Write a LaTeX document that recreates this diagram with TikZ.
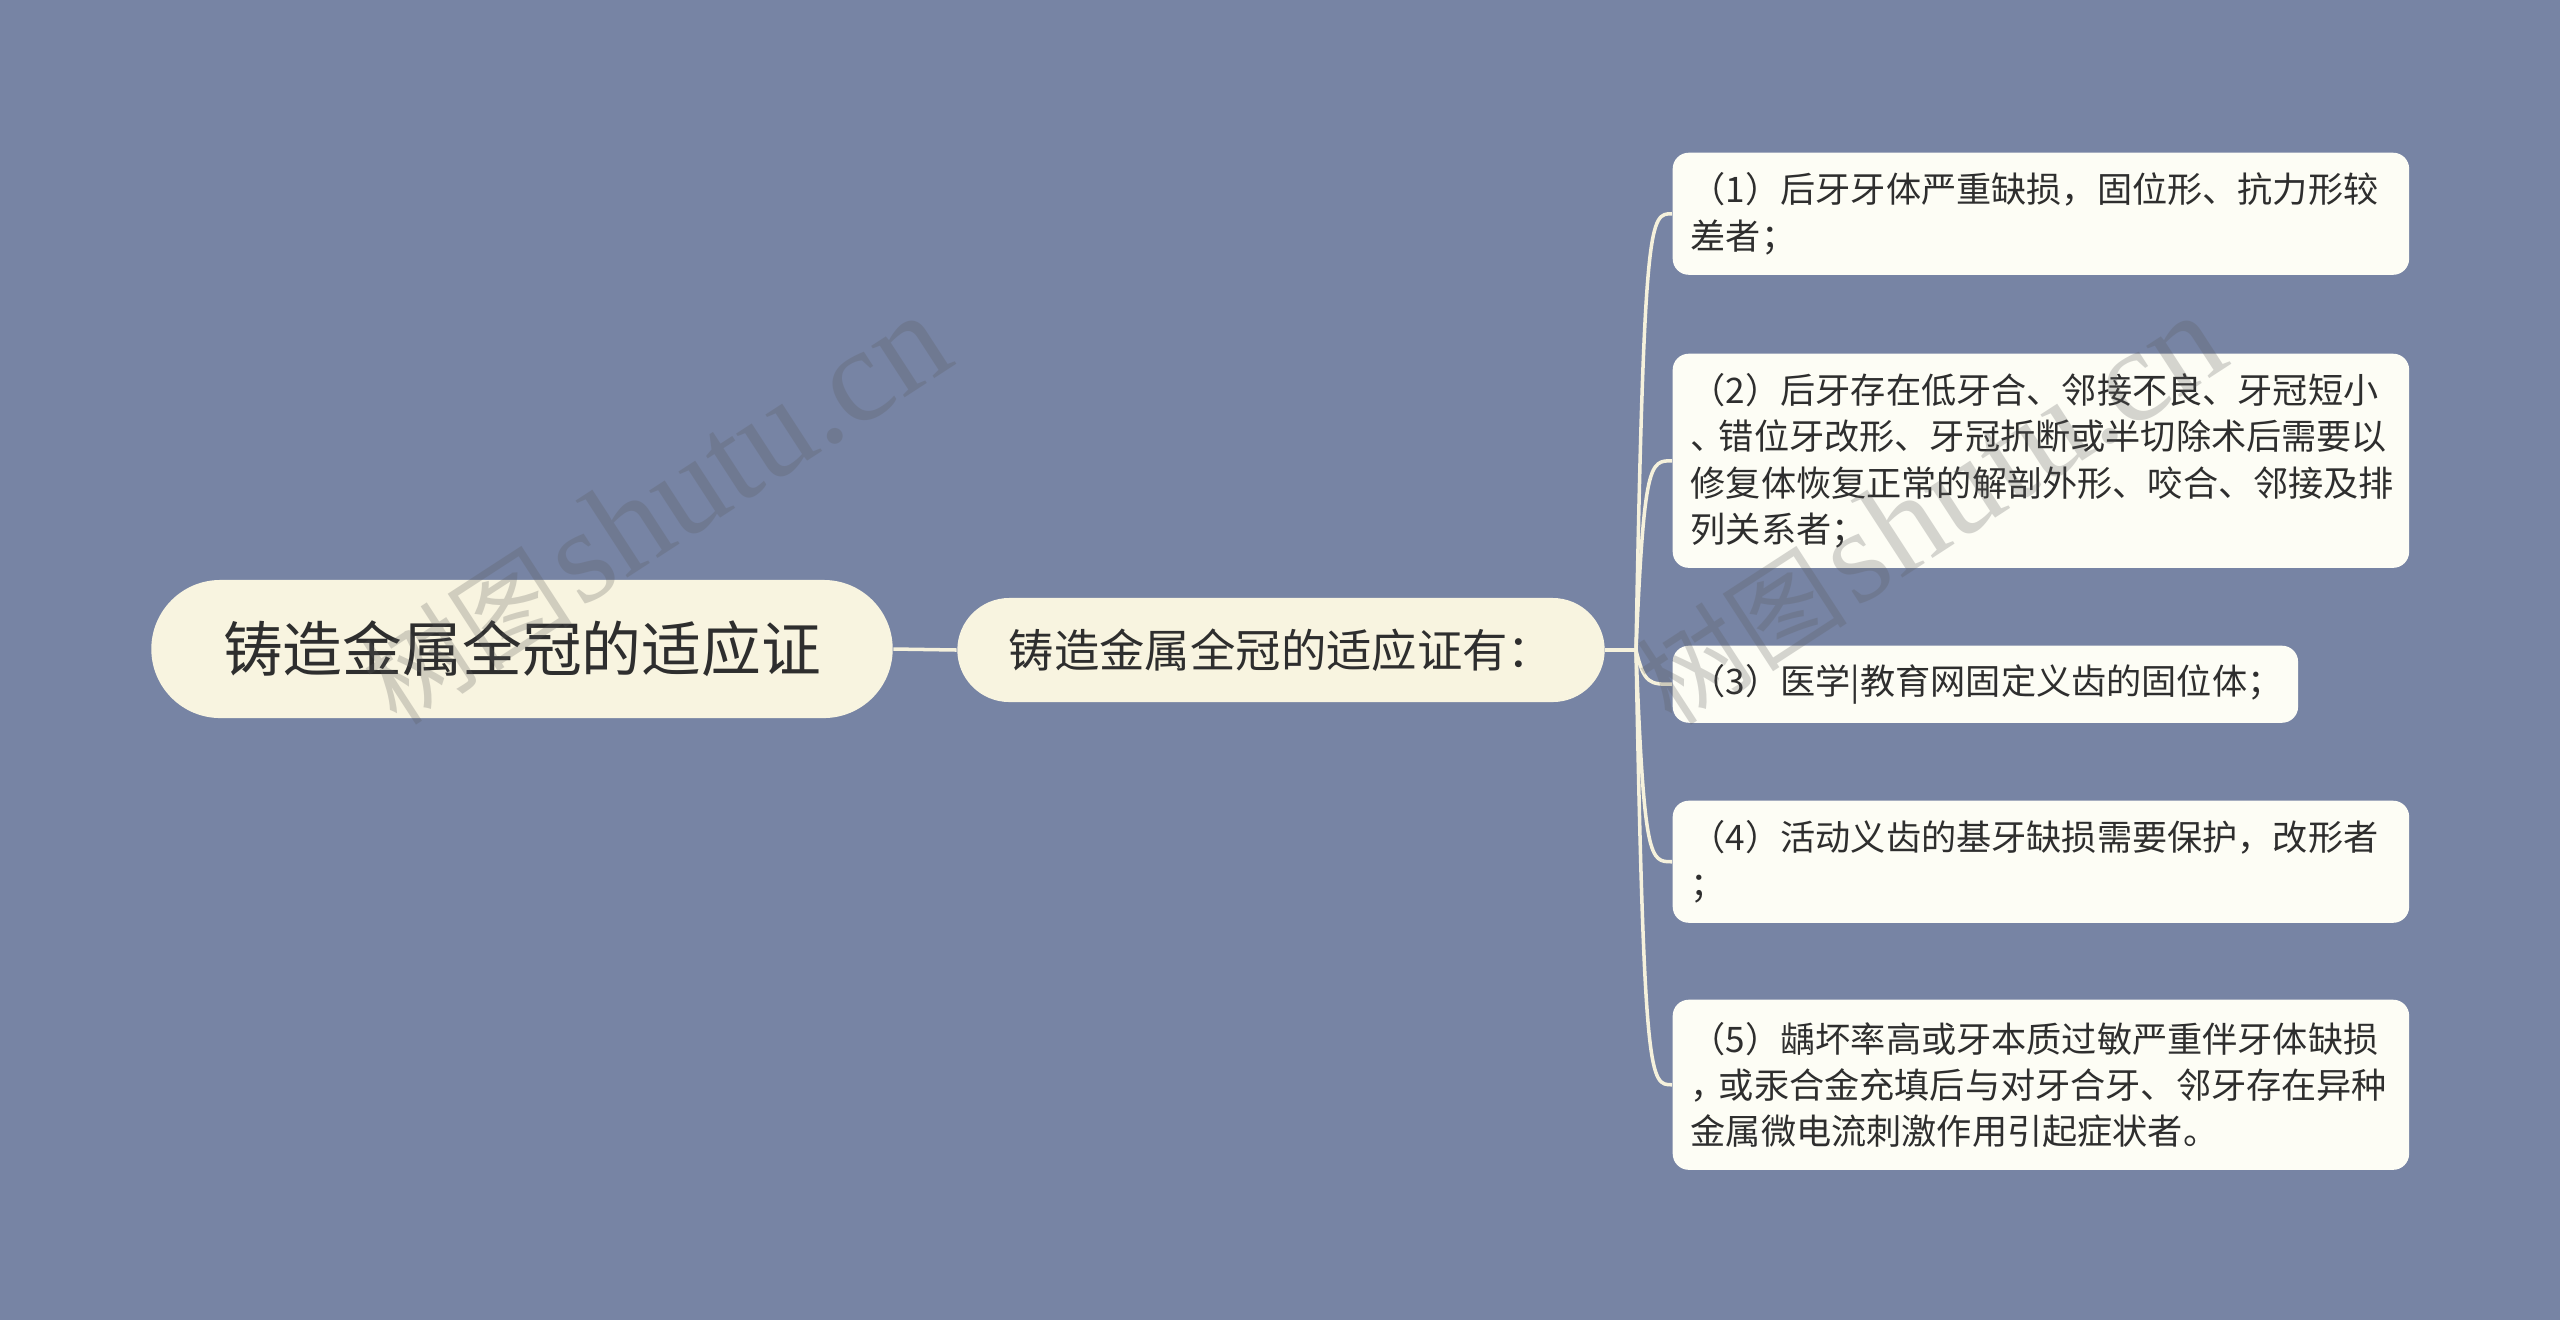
\documentclass[tikz,border=0pt]{standalone}
\usepackage{fontspec}
\setmainfont{Noto Sans CJK SC}
\newfontfamily\wmlatin{Liberation Serif}
\usetikzlibrary{calc}
\definecolor{bgc}{HTML}{7784A4}
\definecolor{rootfill}{HTML}{F8F4E0}
\definecolor{leaffill}{HTML}{FDFDF5}
\definecolor{linec}{HTML}{F5F1DC}
\definecolor{txt}{HTML}{2E2E2E}
\definecolor{wmc}{HTML}{5A5A5A}
\begin{document}
\begin{tikzpicture}[x=0.01cm,y=-0.01cm,
  rootbox/.style={fill=rootfill, rounded corners=0.69cm, minimum width=7.41cm, minimum height=1.38cm, inner sep=0pt, text=txt, font=\fontsize{17}{20}\selectfont},
  midbox/.style={fill=rootfill, rounded corners=0.52cm, minimum width=6.47cm, minimum height=1.04cm, inner sep=0pt, text=txt, font=\fontsize{12.9}{16}\selectfont},
  leafbox/.style={fill=leaffill, rounded corners=0.16cm, text width=7.0cm, inner xsep=0.18cm, inner ysep=0pt, align=left, anchor=north west, text=txt, font=\fontsize{10}{13.1}\selectfont},
  conn/.style={draw=linec, line width=1pt},
  wm/.style={rotate=33, text=wmc, opacity=0.25, inner sep=0pt}
]
\useasboundingbox (0,0) rectangle (2560,1320);
\fill[bgc] (0,0) rectangle (2560,1320);

\node[rootbox] (root) at (522,649) {铸造金属全冠的适应证};
\node[midbox] (mid) at (1281,650) {铸造金属全冠的适应证有：};

\node[leafbox, minimum height=1.22cm] (l1) at (1672,152) {（1）后牙牙体严重缺损，固位形、抗力形较\\差者；};
\node[leafbox, minimum height=2.14cm] (l2) at (1672,353) {（2）后牙存在低牙合、邻接不良、牙冠短小\\\makebox[0.8em][l]{、}错位牙改形、牙冠折断或半切除术后需要以\\修复体恢复正常的解剖外形、咬合、邻接及排\\列关系者；};
\node[leafbox, text width=5.89cm, minimum height=0.77cm] (l3) at (1672,645) {（3）医学|教育网固定义齿的固位体；};
\node[leafbox, minimum height=1.22cm] (l4) at (1672,800) {（4）活动义齿的基牙缺损需要保护，改形者\\；};
\node[leafbox, minimum height=1.70cm] (l5) at (1672,999) {（5）龋坏率高或牙本质过敏严重伴牙体缺损\\\makebox[0.8em][l]{，}或汞合金充填后与对牙合牙、邻牙存在异种\\金属微电流刺激作用引起症状者。};

\coordinate (br) at (1636,650);
\draw[conn] (root.east) -- (mid.west);
\draw[conn] (mid.east) -- (br);
\foreach \l in {l1,l2,l3,l4,l5}{
  \draw[conn] (br) .. controls ($(br|-\l.west)+(8,0)$) and ($(br|-\l.west)+(14,0)$) .. (\l.west);
}

\node[wm] (wm1) at (655,510) {{\fontsize{30}{30}\selectfont 树图} {\wmlatin\fontsize{38}{38}\selectfont shutu.cn}};
\node[wm] (wm2) at (1930,510) {{\fontsize{30}{30}\selectfont 树图} {\wmlatin\fontsize{38}{38}\selectfont shutu.cn}};
\end{tikzpicture}
\end{document}
